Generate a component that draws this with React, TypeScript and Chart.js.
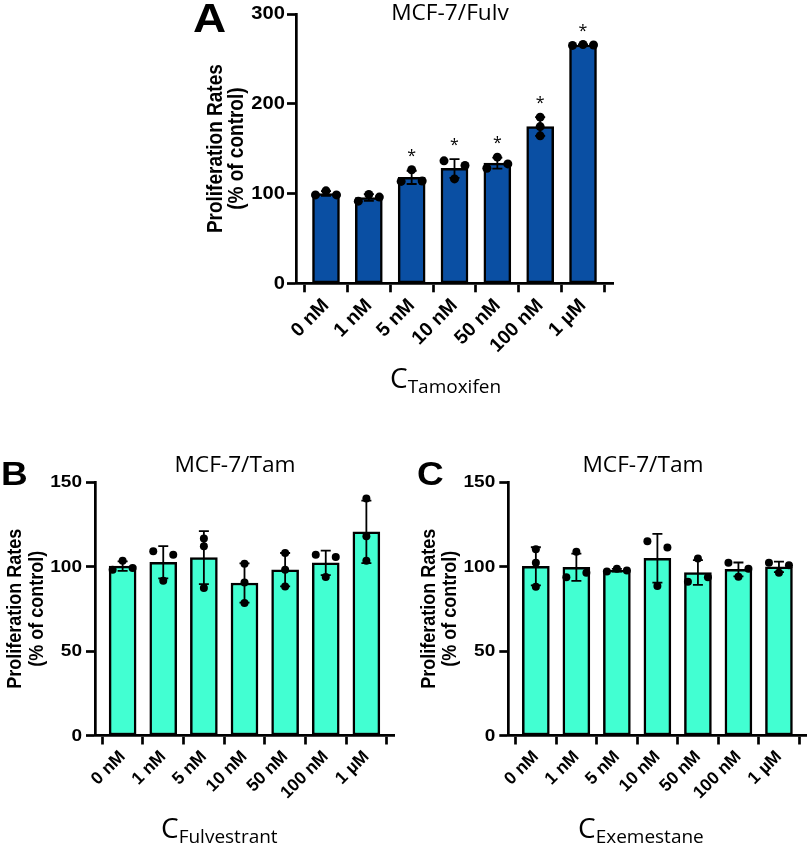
import React, { useEffect, useRef } from 'react';
import { Chart, registerables } from 'chart.js';

Chart.register(...registerables);

// ---------- data ----------
const categories = ['0 nM', '1 nM', '5 nM', '10 nM', '50 nM', '100 nM', '1 µM'];

// replicate measurements (% of control), three per concentration
const repsA = [
  [98.5, 98.5, 103],
  [91.5, 96, 99],
  [113.5, 114, 126.5],
  [116.3, 136.4, 131.2],
  [128.2, 133, 140.5],
  [164.3, 174.6, 185.1],
  [265, 265.5, 266],
];
const sigA = ['', '', '*', '*', '*', '*', '*'];

const repsB = [
  [98.1, 99.1, 103.4],
  [91.6, 109, 107],
  [87.3, 112, 116.5],
  [78.4, 90.6, 101.7],
  [88.2, 98.1, 108],
  [93.8, 107, 105.6],
  [103.4, 117.9, 140.2],
];

const repsC = [
  [88, 102.2, 110.2],
  [108.7, 93.6, 96.3],
  [97.1, 97.7, 98.7],
  [88.4, 115, 111.3],
  [104.8, 91, 93.6],
  [94, 102.2, 98.6],
  [96.3, 102.2, 100.8],
];

const yTicksA = [0, 100, 200, 300];
const yTicksBC = [0, 50, 100, 150];

const titleA = 'MCF-7/Fulv';
const titleBC = 'MCF-7/Tam';
const yTitle = ['Proliferation Rates', '(% of control)'];
const xSubA = 'Tamoxifen';
const xSubB = 'Fulvestrant';
const xSubC = 'Exemestane';

// ---------- helpers ----------
const mean = (a: number[]) => a.reduce((s, v) => s + v, 0) / a.length;
const sd = (a: number[]) => {
  const m = mean(a);
  return Math.sqrt(a.reduce((s, v) => s + (v - m) * (v - m), 0) / (a.length - 1));
};

// simple beeswarm: returns column index per point
function swarm(pys: number[], thresh: number): number[] {
  const cols: number[] = [];
  for (let i = 0; i < pys.length; i++) {
    const y = pys[i];
    const centerHits: number[] = [];
    cols.forEach((c, j) => {
      if (c === 0 && Math.abs(pys[j] - y) < thresh) centerHits.push(j);
    });
    if (centerHits.length === 0) {
      cols.push(0);
      continue;
    }
    if (centerHits.length === 1) {
      const q = centerHits[0];
      const qFree = !cols.some((c, j) => j !== q && c === -1 && Math.abs(pys[j] - pys[q]) < thresh);
      const nFree = !cols.some((c, j) => c === 1 && Math.abs(pys[j] - y) < thresh);
      if (qFree && nFree) {
        cols[q] = -1;
        cols.push(1);
        continue;
      }
    }
    for (const c of [-1, 1, -2, 2, -3, 3]) {
      if (!cols.some((cc, j) => cc === c && Math.abs(pys[j] - y) < thresh)) {
        cols.push(c);
        break;
      }
    }
  }
  return cols;
}

const SANS = "'Liberation Sans', Arial, sans-serif";
const SOFT = "'Open Sans', 'Noto Sans', sans-serif";

function stretchText(
  ctx: CanvasRenderingContext2D,
  text: string,
  x: number,
  y: number,
  sx: number,
  align: CanvasTextAlign,
  baseline: CanvasTextBaseline,
  rot = 0
) {
  ctx.save();
  ctx.translate(x, y);
  ctx.scale(sx, 1);
  if (rot) ctx.rotate(rot);
  ctx.textAlign = align;
  ctx.textBaseline = baseline;
  ctx.fillText(text, 0, 0);
  ctx.restore();
}

type Cfg = {
  id: string;
  rect: { x: number; y: number; w: number; h: number };
  area: { l: number; r: number; t: number; b: number };
  reps: number[][];
  sig?: string[];
  yTicks: number[];
  color: string;
  xMargin: number;
  barW: number;
  dotR: number;
  spread: number;
  yTickFont: number;
  yTickGap: number;
  xTickFont: number;
  letter: string;
  letterFont: number;
  letterX: number;
  letterY: number;
  title: string;
  titleX: number;
  titleY: number;
  yTitleFont: number;
  yTitleX: number[];
  xSub: string;
  xTitleX: number;
  xTitleY: number;
};

const panels: Cfg[] = [
  {
    id: 'A',
    rect: { x: 0, y: 0, w: 807, h: 420 },
    area: { l: 296, r: 613, t: 14, b: 283.3 },
    reps: repsA,
    sig: sigA,
    yTicks: yTicksA,
    color: '#0A4FA3',
    xMargin: 0.7,
    barW: 27,
    dotR: 4.5,
    spread: 10.5,
    yTickFont: 18,
    yTickGap: 11,
    xTickFont: 19.5,
    letter: 'A',
    letterFont: 41,
    letterX: 193,
    letterY: 32,
    title: titleA,
    titleX: 450,
    titleY: 20,
    yTitleFont: 19,
    yTitleX: [222, 243],
    xSub: xSubA,
    xTitleX: 390,
    xTitleY: 388,
  },
  {
    id: 'B',
    rect: { x: 0, y: 420, w: 404, h: 426 },
    area: { l: 95, r: 394, t: 482, b: 735.5 },
    reps: repsB,
    yTicks: yTicksBC,
    color: '#42FFD2',
    xMargin: 0.68,
    barW: 27,
    dotR: 4,
    spread: 10,
    yTickFont: 17,
    yTickGap: 13,
    xTickFont: 17.5,
    letter: 'B',
    letterFont: 33,
    letterX: 1,
    letterY: 485,
    title: titleBC,
    titleX: 235,
    titleY: 472,
    yTitleFont: 18,
    yTitleX: [21, 43],
    xSub: xSubB,
    xTitleX: 161,
    xTitleY: 838,
  },
  {
    id: 'C',
    rect: { x: 404, y: 420, w: 403, h: 426 },
    area: { l: 508.3, r: 806.5, t: 482, b: 735.5 },
    reps: repsC,
    yTicks: yTicksBC,
    color: '#42FFD2',
    xMargin: 0.68,
    barW: 27,
    dotR: 4,
    spread: 10,
    yTickFont: 17,
    yTickGap: 13,
    xTickFont: 17.5,
    letter: 'C',
    letterFont: 33,
    letterX: 417,
    letterY: 485,
    title: titleBC,
    titleX: 643,
    titleY: 472,
    yTitleFont: 18,
    yTitleX: [435, 456],
    xSub: xSubC,
    xTitleX: 578,
    xTitleY: 838,
  },
];

function makeChart(canvas: HTMLCanvasElement, cfg: Cfg) {
  const ox = cfg.rect.x;
  const oy = cfg.rect.y;
  const W = cfg.rect.w;
  const H = cfg.rect.h;
  const yW = 80;
  const xH = 80;
  const left = cfg.area.l - ox;
  const right = cfg.area.r - ox;
  const top = cfg.area.t - oy;
  const bottom = cfg.area.b - oy;
  const means = cfg.reps.map(mean);
  const sds = cfg.reps.map(sd);
  const n = categories.length;
  const yMax = cfg.yTicks[cfg.yTicks.length - 1];

  const decor = {
    id: 'decor' + cfg.id,
    afterDatasetsDraw(chart: any) {
      const ctx = chart.ctx as CanvasRenderingContext2D;
      const xs = chart.scales.x;
      const ys = chart.scales.y;
      ctx.save();
      cfg.reps.forEach((r, i) => {
        const cx = xs.getPixelForValue(i);
        const yTop = ys.getPixelForValue(means[i] + sds[i]);
        const yBot = ys.getPixelForValue(means[i] - sds[i]);
        const cap = 5;
        ctx.strokeStyle = '#000';
        ctx.lineWidth = 1.8;
        ctx.beginPath();
        ctx.moveTo(cx, yTop);
        ctx.lineTo(cx, yBot);
        ctx.moveTo(cx - cap, yTop);
        ctx.lineTo(cx + cap, yTop);
        ctx.moveTo(cx - cap, yBot);
        ctx.lineTo(cx + cap, yBot);
        ctx.stroke();
        const pys = r.map((v) => ys.getPixelForValue(v));
        const cols = swarm(pys, 7);
        ctx.fillStyle = '#000';
        pys.forEach((py, k) => {
          ctx.beginPath();
          ctx.arc(cx + cols[k] * cfg.spread, py, cfg.dotR, 0, Math.PI * 2);
          ctx.fill();
        });
        if (cfg.sig && cfg.sig[i]) {
          const topVal = Math.max(...r, means[i] + sds[i]);
          const sy = ys.getPixelForValue(topVal) - 18;
          ctx.font = `16px ${SOFT}`;
          ctx.textAlign = 'center';
          ctx.textBaseline = 'alphabetic';
          ctx.fillText(cfg.sig[i], cx, sy + 9);
        }
      });
      ctx.restore();
    },
    afterDraw(chart: any) {
      const ctx = chart.ctx as CanvasRenderingContext2D;
      const ys = chart.scales.y;
      const area = chart.chartArea;
      // y tick labels (from the scale's ticks)
      ctx.save();
      ctx.fillStyle = '#000';
      ctx.font = `bold ${cfg.yTickFont}px ${SANS}`;
      ys.ticks.forEach((t: any) => {
        const y = ys.getPixelForValue(t.value);
        stretchText(ctx, String(t.value), area.left - cfg.yTickGap, y + 0.5, 1.12, 'right', 'middle');
      });
      ctx.restore();

      ctx.save();
      ctx.translate(-ox, -oy);
      ctx.fillStyle = '#000';
      // panel letter
      ctx.font = `bold ${cfg.letterFont}px ${SANS}`;
      stretchText(ctx, cfg.letter, cfg.letterX, cfg.letterY, 1.12, 'left', 'alphabetic');
      // title
      ctx.font = `21px ${SOFT}`;
      stretchText(ctx, cfg.title, cfg.titleX, cfg.titleY, 1.08, 'center', 'alphabetic');
      // y title
      const cy = (cfg.area.t + cfg.area.b) / 2;
      ctx.font = `bold ${cfg.yTitleFont}px ${SANS}`;
      yTitle.forEach((line, k) => {
        stretchText(ctx, line, cfg.yTitleX[k], cy, 1.15, 'center', 'alphabetic', -Math.PI / 2);
      });
      // x title with subscript
      ctx.textAlign = 'left';
      ctx.textBaseline = 'alphabetic';
      ctx.font = `28px ${SOFT}`;
      ctx.fillText('C', cfg.xTitleX, cfg.xTitleY);
      const cw = ctx.measureText('C').width;
      ctx.font = `19px ${SOFT}`;
      ctx.fillText(cfg.xSub, cfg.xTitleX + cw, cfg.xTitleY + 5);
      ctx.restore();
    },
  };

  const axisGrid = {
    display: true,
    drawOnChartArea: false,
    drawTicks: true,
    tickLength: 9,
    tickWidth: 2.7,
    tickColor: '#000',
  };
  const axisBorder = { display: true, color: '#000', width: 2.7 };

  return new Chart(canvas, {
    type: 'bar',
    data: {
      datasets: [
        {
          data: means.map((m, i) => ({ x: i, y: m })),
          backgroundColor: cfg.color,
          borderColor: '#000',
          borderWidth: 2.5,
          borderSkipped: false,
          barThickness: cfg.barW,
        } as any,
      ],
    },
    options: {
      responsive: false,
      maintainAspectRatio: false,
      animation: false,
      devicePixelRatio: 1,
      events: [],
      layout: {
        padding: { left: left - yW, right: W - right, top: top, bottom: H - bottom - xH },
      },
      plugins: { legend: { display: false }, tooltip: { enabled: false }, title: { display: false } },
      scales: {
        x: {
          type: 'linear',
          bounds: 'data',
          min: -cfg.xMargin,
          max: n - 1 + cfg.xMargin,
          offset: false,
          grid: axisGrid,
          border: axisBorder,
          afterBuildTicks: (s: any) => {
            s.ticks = categories.map((_, i) => ({ value: i }));
          },
          afterFit: (s: any) => {
            s.height = xH;
          },
          ticks: {
            autoSkip: false,
            maxRotation: 45,
            minRotation: 45,
            padding: 2,
            color: '#000',
            font: { family: SANS, size: cfg.xTickFont, weight: 'bold' },
            callback: (v: any) => categories[Math.round(Number(v))],
          },
        } as any,
        y: {
          type: 'linear',
          min: 0,
          max: yMax,
          grid: axisGrid,
          border: axisBorder,
          afterBuildTicks: (s: any) => {
            s.ticks = cfg.yTicks.map((v) => ({ value: v }));
          },
          afterFit: (s: any) => {
            s.width = yW;
          },
          ticks: {
            display: false,
          },
        } as any,
      },
    },
    plugins: [decor],
  } as any);
}

function Panel({ cfg }: { cfg: Cfg }) {
  const ref = useRef<HTMLCanvasElement>(null);
  useEffect(() => {
    if (!ref.current) return;
    const ch = makeChart(ref.current, cfg);
    return () => ch.destroy();
  }, [cfg]);
  return (
    <canvas
      ref={ref}
      width={cfg.rect.w}
      height={cfg.rect.h}
      style={{
        position: 'absolute',
        left: cfg.rect.x,
        top: cfg.rect.y,
        width: cfg.rect.w,
        height: cfg.rect.h,
      }}
    />
  );
}

export default function App() {
  return (
    <div
      style={{
        position: 'absolute',
        left: 0,
        top: 0,
        width: 807,
        height: 846,
        background: '#fff',
        overflow: 'hidden',
      }}
    >
      {panels.map((p) => (
        <Panel key={p.id} cfg={p} />
      ))}
    </div>
  );
}
